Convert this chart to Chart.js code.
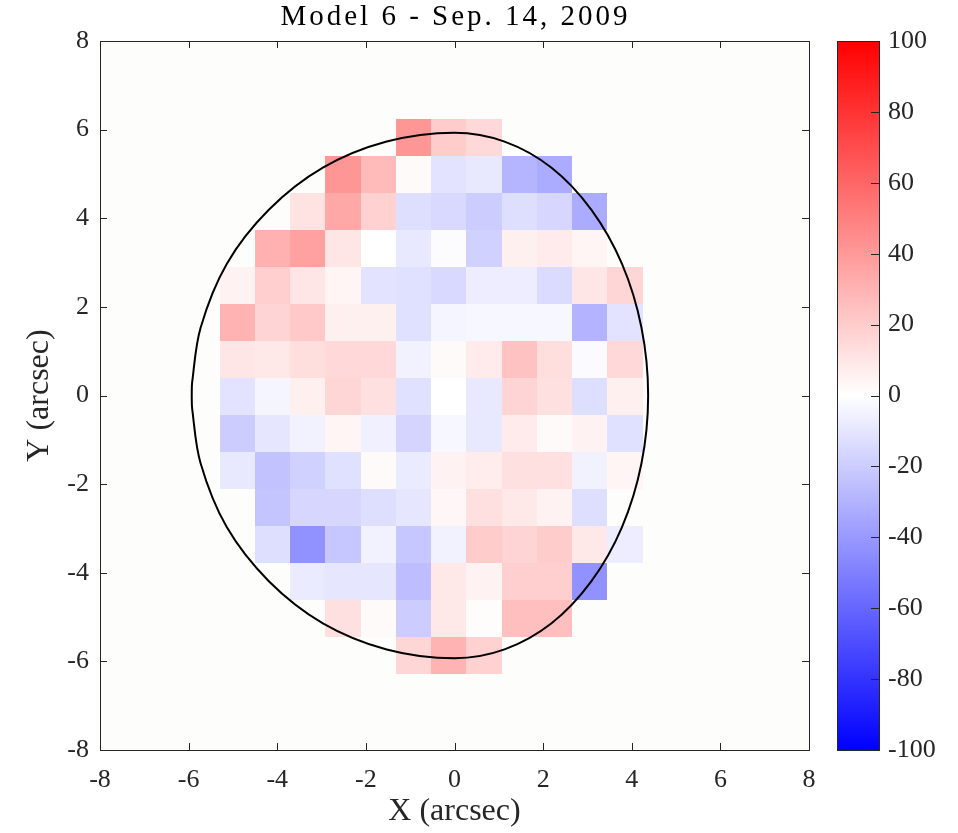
<!DOCTYPE html>
<html>
<head>
<meta charset="utf-8">
<script src="https://cdn.jsdelivr.net/npm/chart.js@4.4.1/dist/chart.umd.min.js"></script>
<style>
  html, body { margin: 0; padding: 0; background: #fff; }
  #wrap { width: 958px; height: 833px; }
</style>
</head>
<body>
<div id="wrap"><canvas id="chart" width="958" height="833"></canvas></div>
<script>
const titleText = 'Model 6 - Sep. 14, 2009';
const xLabel = 'X (arcsec)';
const yLabel = 'Y (arcsec)';

// tick values
const axisTicks = [-8, -6, -4, -2, 0, 2, 4, 6, 8];
const cbarTicks = [-100, -80, -60, -40, -20, 0, 20, 40, 60, 80, 100];

// centres of the spaxel columns / rows (arcsec), rows from the top
const colX = [-4.90, -4.11, -3.31, -2.52, -1.72, -0.93, -0.13, 0.67, 1.46, 2.26, 3.05, 3.85];
const rowY = [5.82, 4.99, 4.15, 3.32, 2.48, 1.65, 0.82, -0.02, -0.85, -1.69, -2.52, -3.36, -4.19, -5.03, -5.86];

// residual per spaxel, one array per row (null = no data)
const row00 = [null, null, null, null, null, 41, 20, 15, null, null, null, null];
const row01 = [null, null, null, 41, 27, 2, -11, -9, -29, -33, null, null];
const row02 = [null, null, 11, 34, 18, -13, -15, -20, -13, -16, -33, null];
const row03 = [null, 31, 37, 10, 0, -9, -1, -18, 6, 8, 4, null];
const row04 = [5, 19, 10, 4, -11, -12, -15, -7, -7, -14, 10, 16];
const row05 = [30, 17, 21, 6, 6, -12, -4, -3, -3, -3, -30, -11];
const row06 = [10, 9, 13, 15, 15, -5, 2, 8, 24, 13, -2, 15];
const row07 = [-11, -4, 6, 16, 12, -12, 0, -9, 17, 12, -13, 6];
const row08 = [-20, -10, -5, 4, -6, -17, -3, -9, 8, 2, 5, -12];
const row09 = [-9, -24, -18, -12, 2, -8, 5, 7, 12, 12, -5, 4];
const row10 = [null, -23, -16, -16, -13, -10, 3, 12, 9, 5, -13, null];
const row11 = [null, -13, -43, -22, -5, -22, -5, 20, 17, 20, 9, -7];
const row12 = [null, null, -8, -10, -10, -26, 9, 5, 19, 19, -43, null];
const row13 = [null, null, null, 12, 2, -20, 9, 1, 25, 25, null, null];
const row14 = [null, null, null, null, null, 16, 30, 18, null, null, null, null];
const rows = [row00, row01, row02, row03, row04, row05, row06, row07, row08, row09, row10, row11, row12, row13, row14];

// outline of the disk (clockwise from the left edge)
const rimX = [-5.93, -5.92, -5.73, -5.14, -4.19, -2.97, -1.53, 0.00, 1.13, 2.19, 3.09, 3.78, 4.22, 4.37,
              4.22, 3.78, 3.09, 2.19, 1.13, 0.00, -1.53, -2.97, -4.19, -5.14, -5.73, -5.92, -5.93];
const rimY = [0.00, 0.30, 1.53, 2.97, 4.19, 5.14, 5.73, 5.93, 5.73, 5.14, 4.19, 2.97, 1.53, 0.00,
              -1.53, -2.97, -4.19, -5.14, -5.73, -5.93, -5.73, -5.14, -4.19, -2.97, -1.53, -0.30, 0.00];

const cellW = 0.796, cellH = 0.834;
const serif = "'Liberation Serif', 'Times New Roman', serif";
const ink = '#262626';

function colorFor(v) {
  const t = Math.min(Math.abs(v), 100) / 100;
  const c = Math.round(255 * (1 - t));
  return v >= 0 ? `rgb(255,${c},${c})` : `rgb(${c},${c},255)`;
}

// cell edges sit halfway between neighbouring centres so cells share borders
function edges(centres, size) {
  const out = [centres[0] - size / 2];
  for (let i = 1; i < centres.length; i++) out.push((centres[i - 1] + centres[i]) / 2);
  out.push(centres[centres.length - 1] + size / 2);
  return out;
}

// draws the spaxels under the outline
const cellsPlugin = {
  id: 'cells',
  beforeDatasetsDraw(chart) {
    const { ctx, chartArea: a, scales: { x, y } } = chart;
    const xe = edges(colX, cellW).map(v => Math.round(x.getPixelForValue(v)));
    const ye = edges(rowY, -cellH).map(v => Math.round(y.getPixelForValue(v)));
    ctx.save();
    ctx.fillStyle = '#fdfdfb';
    ctx.fillRect(a.left, a.top, a.right - a.left, a.bottom - a.top);
    rows.forEach((row, r) => {
      row.forEach((v, c) => {
        if (v === null) return;
        ctx.fillStyle = colorFor(v);
        ctx.fillRect(xe[c], ye[r], xe[c + 1] - xe[c], ye[r + 1] - ye[r]);
      });
    });
    ctx.restore();
  }
};

// box, inward ticks, colorbar and title
const framePlugin = {
  id: 'frame',
  afterDraw(chart) {
    const { ctx, chartArea: a, scales: { x, y, cb } } = chart;
    ctx.save();
    ctx.strokeStyle = ink;
    ctx.lineWidth = 1;
    ctx.beginPath();
    axisTicks.forEach(v => {
      const px = Math.round(x.getPixelForValue(v)) + 0.5;
      ctx.moveTo(px, a.bottom); ctx.lineTo(px, a.bottom - 7);
      ctx.moveTo(px, a.top); ctx.lineTo(px, a.top + 7);
      const py = Math.round(y.getPixelForValue(v)) + 0.5;
      ctx.moveTo(a.left, py); ctx.lineTo(a.left + 7, py);
      ctx.moveTo(a.right, py); ctx.lineTo(a.right - 7, py);
    });
    ctx.stroke();
    ctx.strokeRect(a.left + 0.5, a.top + 0.5, a.right - a.left, a.bottom - a.top);

    // colorbar
    const top = cb.getPixelForValue(100), bot = cb.getPixelForValue(-100);
    const bx0 = 837, bx1 = 879;
    const g = ctx.createLinearGradient(0, top, 0, bot);
    g.addColorStop(0, 'rgb(255,0,0)');
    g.addColorStop(0.5, 'rgb(255,255,255)');
    g.addColorStop(1, 'rgb(0,0,255)');
    ctx.fillStyle = g;
    ctx.fillRect(bx0, top, bx1 - bx0, bot - top);
    ctx.beginPath();
    cbarTicks.forEach(v => {
      const py = Math.round(cb.getPixelForValue(v)) + 0.5;
      ctx.moveTo(bx1, py); ctx.lineTo(bx1 - 8, py);
    });
    ctx.stroke();
    ctx.strokeRect(bx0 + 0.5, top + 0.5, bx1 - bx0, bot - top);

    // title
    ctx.fillStyle = '#000';
    ctx.font = `29px ${serif}`;
    ctx.letterSpacing = '3px';
    ctx.textAlign = 'center';
    ctx.textBaseline = 'alphabetic';
    ctx.fillText(titleText, (a.left + a.right) / 2 + 1, 25);
    ctx.restore();
  }
};

const rim = rimX.map((v, i) => ({ x: v, y: rimY[i] }));

// tick marks are drawn by the frame plugin; invisible grid ticks only push the labels out
const hiddenTicks = len => ({ display: true, drawOnChartArea: false, drawTicks: true, tickLength: len, tickColor: 'rgba(0,0,0,0)' });

new Chart(document.getElementById('chart'), {
  type: 'scatter',
  data: {
    datasets: [{
      data: rim,
      showLine: true,
      borderColor: '#000',
      borderWidth: 2,
      pointRadius: 0,
      tension: 0.34,
      fill: false
    }]
  },
  options: {
    responsive: false,
    animation: false,
    layout: { padding: { top: 41 } },
    plugins: {
      legend: { display: false },
      tooltip: { enabled: false },
      title: { display: false }
    },
    scales: {
      x: {
        type: 'linear', position: 'bottom', min: -8, max: 8,
        grid: hiddenTicks(15),
        border: { display: false },
        afterBuildTicks: s => { s.ticks = axisTicks.map(v => ({ value: v })); },
        afterFit: s => { s.height = 83; },
        ticks: { font: { family: serif, size: 26 }, color: ink, padding: 0, maxRotation: 0, autoSkip: false },
        title: { display: true, text: xLabel, font: { family: serif, size: 32 }, color: ink, padding: { top: 0, bottom: 2 } }
      },
      y: {
        type: 'linear', position: 'left', min: -8, max: 8,
        grid: hiddenTicks(11),
        border: { display: false },
        afterBuildTicks: s => { s.ticks = axisTicks.map(v => ({ value: v })); },
        afterFit: s => { s.width = 100; },
        ticks: { font: { family: serif, size: 26 }, color: ink, padding: 0, autoSkip: false },
        title: { display: true, text: yLabel, font: { family: serif, size: 32 }, color: ink, padding: { top: 20, bottom: 0 } }
      },
      cb: {
        type: 'linear', position: 'right', min: -100, max: 100,
        grid: hiddenTicks(79),
        border: { display: false },
        afterBuildTicks: s => { s.ticks = cbarTicks.map(v => ({ value: v })); },
        afterFit: s => { s.width = 149; },
        ticks: { font: { family: serif, size: 26 }, color: ink, padding: 0, autoSkip: false }
      }
    }
  },
  plugins: [cellsPlugin, framePlugin]
});
</script>
</body>
</html>
